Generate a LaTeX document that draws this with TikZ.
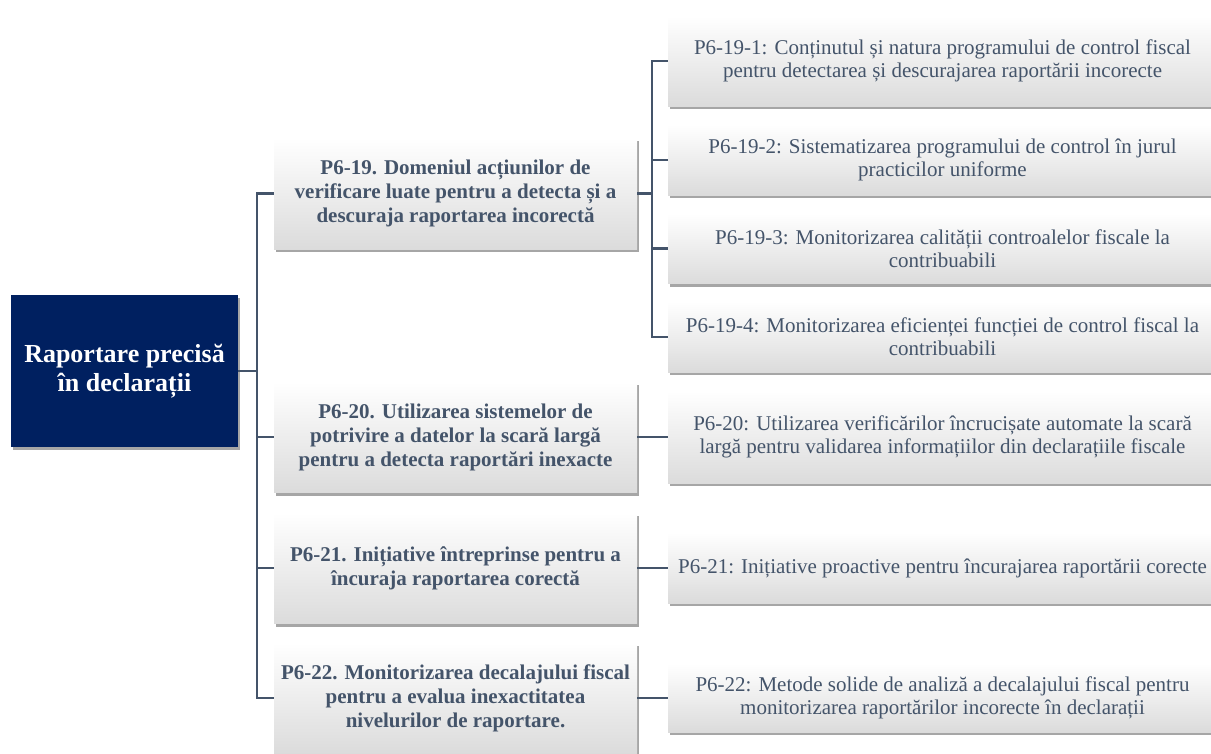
\documentclass[tikz,border=0pt]{standalone}
\usepackage{fontspec}
\setmainfont{Liberation Serif}
\usepackage{tikz}
\usetikzlibrary{positioning,shadows}
\definecolor{navy}{HTML}{002060}
\definecolor{slate}{HTML}{44546A}
\tikzstyle{shad}=[drop shadow={shadow xshift=1.5pt, shadow yshift=-3pt, fill=black, opacity=.35}]
\tikzstyle{root}=[fill=navy, text=white, minimum height = 152pt, minimum width=227pt, align=center, font=\fontsize{26}{29}\selectfont\bfseries, shad]
\tikzstyle{mid}=[top color=white, bottom color=black!14, text=slate, minimum height = 111pt, minimum width=363pt, align=center, font=\fontsize{21}{24}\selectfont\bfseries, shad]
\tikzstyle{leaf}=[top color=white, bottom color=black!14, text=slate, minimum height = 70pt, minimum width=549pt, align=center, font=\fontsize{21}{23}\selectfont, shad]
\tikzstyle{conn}=[draw=slate, line width=2.5pt]

\begin{document}
\begin{tikzpicture}[x=1pt,y=1pt]
  \useasboundingbox (0,0) rectangle (1211,-753);
  \clip (0,0) rectangle (1211,-753);

  \node[root] at (124.5,-371) (root) {Raportare precisă\\ în declarații};

  \node[mid] at (455.5,-193.5) (p19) {P6-19. Domeniul acțiunilor de\\ verificare luate pentru a detecta și a\\ descuraja raportarea incorectă};
  \node[mid, below of = p19, node distance = 243.5pt] (p20) {P6-20. Utilizarea sistemelor de\\ potrivire a datelor la scară largă\\ pentru a detecta raportări inexacte};
  \node[mid, below of = p20, node distance = 131pt] (p21) {P6-21. Inițiative întreprinse pentru a\\ încuraja raportarea corectă};
  \node[mid, below of = p21, node distance = 130pt] (p22) {P6-22. Monitorizarea decalajului fiscal\\ pentru a evalua inexactitatea\\ nivelurilor de raportare.};

  \node[leaf, minimum height = 90pt] at (942.5,-61) (l1) {P6-19-1: Conținutul și natura programului de control fiscal\\ pentru detectarea și descurajarea raportării incorecte};
  \node[leaf, below of = l1, node distance = 99pt] (l2) {P6-19-2: Sistematizarea programului de control în jurul\\ practicilor uniforme};
  \node[leaf, below of = l2, node distance = 88.5pt] (l3) {P6-19-3: Monitorizarea calității controalelor fiscale la\\ contribuabili};
  \node[leaf, below of = l3, node distance = 88.5pt] (l4) {P6-19-4: Monitorizarea eficienței funcției de control fiscal la\\ contribuabili};
  \node[leaf, minimum height = 92pt, right of = p20, node distance = 487pt] (l20) {P6-20: Utilizarea verificărilor încrucișate automate la scară\\ largă pentru validarea informațiilor din declarațiile fiscale};
  \node[leaf, right of = p21, node distance = 487pt] (l21) {P6-21: Inițiative proactive pentru încurajarea raportării corecte};
  \node[leaf, minimum height = 68pt, right of = p22, node distance = 487pt] (l22) {P6-22: Metode solide de analiză a decalajului fiscal pentru\\ monitorizarea raportărilor incorecte în declarații};

  \draw[conn] (root.east) -- ++(19,0) |- (p19.west);
  \draw[conn] (root.east) -- ++(19,0) |- (p20.west);
  \draw[conn] (root.east) -- ++(19,0) |- (p21.west);
  \draw[conn] (root.east) -- ++(19,0) |- (p22.west);

  \draw[conn] (p19.east) -- ++(15,0) |- (l1.west);
  \draw[conn] (p19.east) -- ++(15,0) |- (l2.west);
  \draw[conn] (p19.east) -- ++(15,0) |- (l3.west);
  \draw[conn] (p19.east) -- ++(15,0) |- (l4.west);

  \draw[conn] (p20.east) -- (l20.west);
  \draw[conn] (p21.east) -- (l21.west);
  \draw[conn] (p22.east) -- (l22.west);
\end{tikzpicture}
\end{document}
